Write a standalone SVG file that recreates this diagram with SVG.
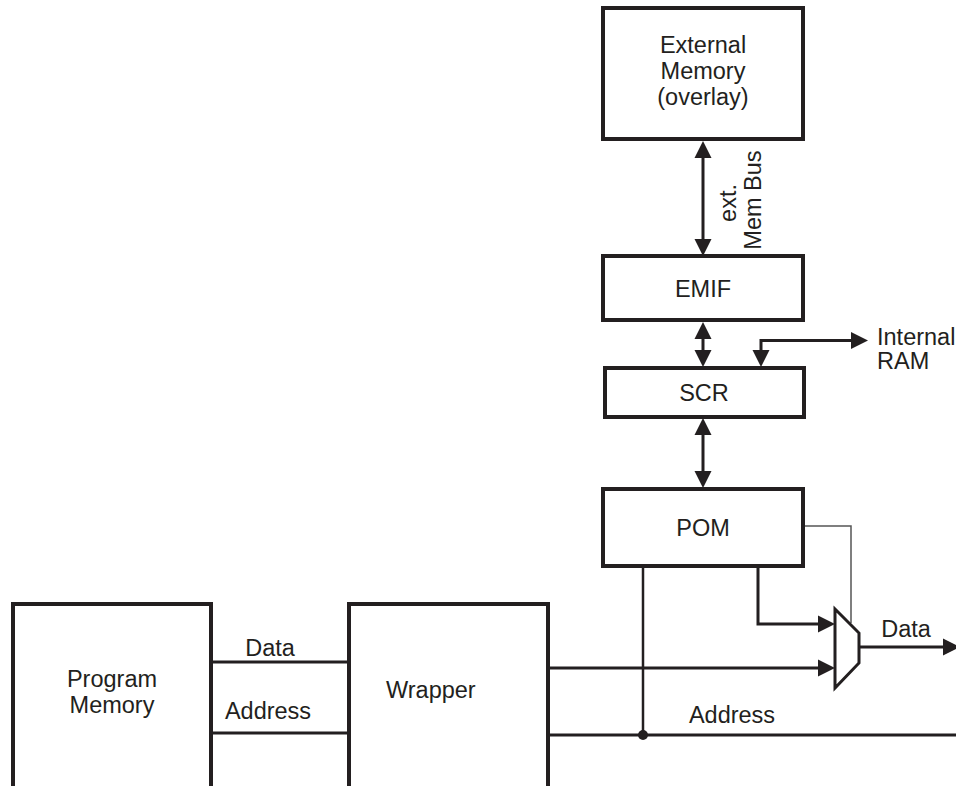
<svg xmlns="http://www.w3.org/2000/svg" width="956" height="786" viewBox="0 0 956 786">
<defs>
<style>
.box{fill:#fff;stroke:#231f20;stroke-width:4}
.ln{fill:none;stroke:#231f20;stroke-width:3}
.thin{fill:none;stroke:#555;stroke-width:1.5}
.mid{fill:none;stroke:#231f20;stroke-width:2.5}
text{font-family:"Liberation Sans",Arial,sans-serif;font-size:23.5px;fill:#231f20}
.c{text-anchor:middle}
</style>
<marker id="ah" markerUnits="userSpaceOnUse" viewBox="0 -9 17 18" refX="8" refY="0" markerWidth="17" markerHeight="18" orient="auto-start-reverse">
<path d="M0,-8.5 L17,0 L0,8.5 z" fill="#231f20"/>
</marker>
</defs>
<rect width="956" height="786" fill="#fff"/>
<g id="connectors">
<path class="ln" d="M703,150 V247" marker-start="url(#ah)" marker-end="url(#ah)"/>
<path class="ln" d="M703,331 V358" marker-start="url(#ah)" marker-end="url(#ah)"/>
<path class="ln" d="M703,427 V479" marker-start="url(#ah)" marker-end="url(#ah)"/>
<path class="ln" d="M761,358 V340.5 H859" marker-start="url(#ah)" marker-end="url(#ah)"/>
<path class="ln" d="M758,566 V624 H826" marker-end="url(#ah)"/>
<path class="ln" d="M548,668 H826" marker-end="url(#ah)"/>
<path class="ln" d="M859,647 H951" marker-end="url(#ah)"/>
<path class="ln" d="M548,735 H956"/>
<path class="ln" d="M211,662 H349"/>
<path class="ln" d="M211,733 H349"/>
<path class="mid" d="M643,566 V735"/>
<circle cx="643" cy="735" r="5" fill="#231f20"/>
<path class="thin" d="M803,526 H851 V623"/>
</g>
<g id="ext-mem">
<rect class="box" x="603" y="8" width="200" height="131"/>
<text class="c" x="703" y="53">External</text>
<text class="c" x="703" y="79">Memory</text>
<text class="c" x="703" y="105">(overlay)</text>
</g>
<g id="bus-label">
<text class="c" transform="translate(736,203) rotate(-90)">ext.</text>
<text class="c" transform="translate(761,200) rotate(-90)">Mem Bus</text>
</g>
<g id="emif">
<rect class="box" x="603" y="256" width="200" height="64"/>
<text class="c" x="703" y="297">EMIF</text>
</g>
<g id="scr">
<rect class="box" x="605" y="368" width="199" height="49"/>
<text class="c" x="704" y="401">SCR</text>
</g>
<g id="internal-ram">
<text x="877" y="345">Internal</text>
<text x="877" y="369">RAM</text>
</g>
<g id="pom">
<rect class="box" x="603" y="489" width="200" height="77"/>
<text class="c" x="703" y="536">POM</text>
</g>
<g id="mux">
<polygon points="835,609 859,633 859,663 835,688" fill="#fff" stroke="#231f20" stroke-width="3"/>
</g>
<g id="program-memory">
<rect class="box" x="13" y="604" width="198" height="200"/>
<text class="c" x="112" y="687">Program</text>
<text class="c" x="112" y="713">Memory</text>
</g>
<g id="wrapper">
<rect class="box" x="349" y="604" width="199" height="200"/>
<text x="386" y="698">Wrapper</text>
</g>
<g id="labels">
<text class="c" x="270" y="656">Data</text>
<text class="c" x="268" y="719">Address</text>
<text class="c" x="906" y="637">Data</text>
<text class="c" x="732" y="723">Address</text>
</g>
</svg>
